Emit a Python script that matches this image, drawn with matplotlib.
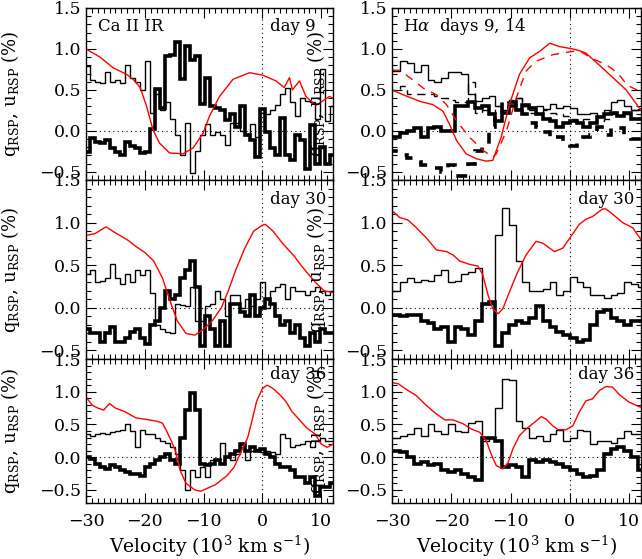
import numpy as np
import matplotlib
matplotlib.use("Agg")
import matplotlib.pyplot as plt
from matplotlib.ticker import MultipleLocator

plt.rcParams['font.family'] = ['DejaVu Serif']
plt.rcParams['mathtext.fontset'] = 'dejavuserif'

# ---------------- data ----------------
# bin grids (10^3 km/s)
ca_start, ca_width, ca_n = -30.15, 0.85, 50
ha_start, ha_width, ha_n = -30.86, 1.143, 38

# Ca II IR day 9
ca9_u = [0.79,0.62,0.60,0.58,0.72,0.60,0.62,0.58,0.80,0.64,0.60,0.50,0.85,0.22,0.45,0.25,0.35,0.15,-0.05,-0.30,
         0.10,-0.52,-0.25,-0.05,0.08,-0.05,-0.02,-0.05,-0.17,0.10,0.10,0.00,-0.05,0.08,-0.08,0.22,0.20,0.25,0.32,0.45,
         0.52,0.35,0.18,0.40,0.36,0.35,0.15,0.75,0.12,0.30]
ca9_q = [-0.26,-0.09,-0.13,-0.15,-0.11,-0.21,-0.26,-0.30,-0.14,-0.19,-0.21,-0.27,-0.26,0.02,0.51,0.28,0.91,0.93,1.08,0.63,
         1.03,0.86,0.91,0.33,0.65,0.30,0.28,0.26,0.13,0.20,0.05,0.30,-0.05,-0.11,-0.32,0.27,-0.01,-0.21,-0.30,0.16,
         -0.30,-0.36,-0.05,-0.11,-0.46,0.07,-0.40,-0.20,-0.40,-0.30]
ca9_fx = [-30,-27.6,-25.4,-23.1,-22,-20.8,-19.7,-18.6,-17.5,-15.8,-13.5,-11.8,-10.1,-9,-7.3,-5,-2.2,0.05,2.3,3.7,4.6,5.1,6.3,7.4,9.1,11.4,12]
ca9_fy = [1.0,0.9,0.77,0.69,0.63,0.53,0.3,0.01,-0.15,-0.27,-0.28,-0.21,-0.03,0.18,0.42,0.63,0.71,0.68,0.61,0.53,0.65,0.5,0.61,0.42,0.31,0.42,0.40]

# Ca II IR day 30
ca30_u = [0.40,0.45,0.30,0.32,0.35,0.52,0.35,0.28,0.40,0.30,0.45,0.38,0.45,0.17,-0.20,-0.25,-0.28,-0.30,0.05,0.03,
          0.02,0.25,-0.15,-0.15,0.02,0.05,0.20,0.10,-0.10,0.15,0.15,0.00,0.10,0.02,0.10,0.30,0.00,0.20,0.25,0.28,
          0.10,0.25,0.20,0.20,0.15,0.20,0.25,0.20,0.15,0.20]
ca30_q = [-0.25,-0.30,-0.30,-0.40,-0.30,-0.22,-0.40,-0.40,-0.35,-0.28,-0.25,-0.35,-0.42,-0.20,-0.15,0.00,0.20,0.10,0.15,0.35,
          0.45,0.55,0.25,-0.45,-0.10,-0.25,-0.45,-0.15,-0.45,0.05,0.05,-0.05,-0.10,0.15,-0.10,0.00,0.10,0.05,-0.10,-0.20,
          -0.15,-0.30,-0.20,-0.35,-0.45,-0.30,-0.40,-0.25,-0.30,-0.30]
ca30_fx = [-30,-28.5,-26.6,-25,-23,-21.5,-20,-18.5,-17,-15.8,-14.5,-13,-11.5,-10,-8.5,-7,-5.8,-4.5,-3,-1.5,0,0.5,1.8,3.5,5.5,6,7.5,9,10.5,12]
ca30_fy = [0.85,0.87,0.95,0.88,0.8,0.72,0.65,0.55,0.35,0.1,-0.15,-0.3,-0.32,-0.25,-0.15,0.0,0.2,0.45,0.7,0.9,0.97,0.98,0.9,0.75,0.6,0.55,0.42,0.3,0.2,0.18]

# Ca II IR day 36
ca36_u = [0.35,0.33,0.35,0.37,0.35,0.38,0.40,0.42,0.50,0.40,0.15,0.42,0.35,0.35,0.30,0.25,0.22,0.15,0.05,-0.20,
          -0.50,-0.20,-0.30,-0.15,-0.30,-0.05,-0.05,0.22,0.00,-0.05,0.05,0.15,-0.05,0.10,0.12,0.08,0.10,0.08,0.05,0.35,
          0.30,0.15,0.18,0.20,0.25,0.15,0.25,0.30,0.25,0.25]
ca36_q = [0.00,-0.03,-0.10,-0.15,-0.18,-0.12,-0.15,-0.20,-0.22,-0.25,-0.25,-0.28,-0.15,-0.10,-0.05,0.00,0.05,-0.05,-0.10,0.30,
          0.72,0.98,0.72,-0.10,-0.12,-0.10,-0.05,-0.10,0.00,0.05,0.10,0.20,0.10,0.15,0.10,0.12,0.05,0.00,-0.10,-0.15,
          -0.15,-0.20,-0.30,-0.30,-0.40,-0.30,-0.60,-0.45,-0.45,-0.40]
ca36_fx = [-30,-29,-28,-27,-26,-25,-23.5,-21.5,-20,-18,-17,-16.3,-15.5,-14.8,-14,-13,-11.5,-10.5,-9.5,-8,-7,-6,-4.8,-3.8,-2.5,-1.8,-1,0,0.8,1.8,3,4,5,6.5,7.5,9,10,11,12]
ca36_fy = [0.92,0.8,0.75,0.72,0.82,0.75,0.7,0.6,0.58,0.55,0.52,0.4,0.25,0.1,-0.2,-0.4,-0.5,-0.52,-0.48,-0.42,-0.35,-0.28,-0.15,0.05,0.3,0.55,0.85,1.05,1.1,1.05,0.95,0.85,0.7,0.55,0.45,0.35,0.2,0.15,0.2]

# H-alpha day 9 (solid) and day 14 (dashed)
ha9_u = [0.73,0.73,0.85,0.83,0.72,0.80,0.62,0.60,0.65,0.72,0.72,0.70,0.45,0.37,0.40,0.43,0.30,0.25,0.35,0.40,
         0.30,0.25,0.30,0.27,0.33,0.28,0.30,0.28,0.20,0.20,0.22,0.18,0.25,0.35,0.38,0.30,0.25,0.27]
ha9_q = [-0.07,-0.07,-0.03,0.00,0.03,-0.07,0.03,0.05,0.00,0.00,0.30,0.30,0.35,0.28,0.30,0.20,0.12,0.22,0.30,0.25,
         0.32,0.28,0.20,0.15,0.12,0.05,0.10,0.12,0.10,0.05,0.10,0.17,0.20,0.22,0.18,0.22,0.15,0.15]
ha14_u = [0.50,0.50,0.55,0.45,0.45,0.45,0.45,0.42,0.40,0.38,0.35,0.35,0.60,0.22,0.25,0.22,0.30,0.35,0.38,0.40,
          0.30,0.22,0.20,0.25,0.22,0.20,0.18,0.15,0.12,0.15,0.10,0.12,0.15,0.20,0.22,0.20,0.25,0.25]
ha14_q = [-0.25,-0.25,-0.30,-0.33,-0.38,-0.42,-0.42,-0.45,-0.50,-0.42,-0.55,-0.55,-0.40,-0.25,-0.18,0.05,0.22,0.38,0.35,0.30,
          0.20,0.10,0.05,-0.02,-0.10,-0.08,-0.15,-0.18,-0.12,-0.08,-0.05,0.05,-0.05,0.05,0.03,-0.05,-0.10,-0.10]
ha9_fx = [-30,-28.1,-25.3,-23.1,-21.4,-20.3,-19.1,-17.5,-15.8,-14.1,-13,-11.6,-10.2,-8.5,-6.8,-5.1,-3.4,-1.8,0.5,1.6,2.7,5,7.1,9.5,11.7,12]
ha9_fy = [0.5,0.44,0.36,0.32,0.24,0.08,-0.12,-0.28,-0.34,-0.37,-0.36,-0.08,0.32,0.69,0.89,0.97,1.07,1.03,1.0,0.98,0.95,0.8,0.66,0.5,0.28,0.26]
ha14_fx = [-30,-28.7,-27,-24.7,-22.5,-20.8,-19.1,-16.9,-14.6,-13,-12.4,-10.7,-9.05,-7.4,-5.7,-2.9,0.5,1.6,3.8,5.8,7.1,8.6,9.6,11.3,12]
ha14_fy = [0.74,0.74,0.65,0.52,0.44,0.32,0.12,-0.08,-0.24,-0.32,-0.28,0.0,0.4,0.73,0.85,0.93,0.97,0.98,0.88,0.82,0.76,0.66,0.56,0.5,0.48]

# H-alpha day 30
ha30_u = [0.20,0.20,0.30,0.35,0.30,0.33,0.32,0.38,0.45,0.30,0.32,0.40,0.42,0.47,0.05,0.05,0.85,1.17,0.97,0.55,
          0.30,0.20,0.20,0.22,0.30,0.15,0.20,0.36,0.30,0.25,0.15,0.15,0.12,0.15,0.18,0.30,0.28,0.25]
ha30_q = [-0.08,-0.08,-0.10,-0.08,-0.08,-0.15,-0.18,-0.25,-0.22,-0.40,-0.22,-0.25,-0.32,-0.15,0.05,0.07,-0.45,-0.30,-0.20,-0.15,
          -0.18,-0.12,0.02,-0.15,-0.22,-0.28,-0.32,-0.35,-0.40,-0.38,-0.20,-0.05,-0.02,-0.12,-0.15,-0.20,-0.15,-0.15]
ha30_fx = [-30,-28.7,-27.3,-25.9,-24.2,-22.5,-20.8,-19.7,-18.6,-16.9,-15.5,-14.7,-13.8,-13,-12.1,-11.3,-10.4,-9,-7.4,-5.7,-4.6,-3.4,-2.6,-1.2,0,1.6,2.7,3.8,5.5,6.1,7.2,8.9,10.6,12]
ha30_fy = [1.14,1.06,1.03,0.94,0.82,0.68,0.66,0.62,0.55,0.51,0.49,0.39,0.15,-0.01,-0.07,-0.01,0.15,0.39,0.62,0.78,0.76,0.7,0.66,0.7,0.82,0.98,1.04,1.07,1.16,1.16,1.1,1.0,0.94,0.8]

# H-alpha day 36
ha36_u = [0.30,0.30,0.32,0.35,0.45,0.33,0.50,0.40,0.35,0.50,0.40,0.38,0.52,0.55,0.25,0.30,0.75,1.20,1.18,0.55,
          0.45,0.30,0.33,0.25,0.35,0.42,0.25,0.30,0.42,0.40,0.20,0.25,0.25,0.22,0.30,0.40,0.35,0.35]
ha36_q = [0.10,0.10,0.08,0.00,-0.10,-0.07,-0.12,-0.10,-0.20,-0.22,-0.20,-0.25,-0.30,-0.35,0.30,0.30,0.25,-0.15,-0.12,-0.15,
          -0.30,-0.05,-0.08,-0.05,-0.08,-0.10,-0.15,-0.20,-0.25,-0.30,-0.28,-0.20,0.05,0.12,0.15,0.10,0.00,-0.20]
ha36_fx = [-30,-28.9,-27.5,-25.9,-24.2,-22.5,-21.1,-19.7,-18,-16.6,-15.2,-14.1,-13.2,-12.4,-11.3,-10.4,-9.6,-8.5,-7.4,-6,-4.8,-4,-2.9,-2,-0.6,0.5,1.6,2.7,3.8,5,6.1,7.2,8.3,10,12]
ha36_fy = [1.14,1.12,1.03,0.94,0.79,0.66,0.57,0.57,0.51,0.43,0.38,0.25,0.03,-0.13,-0.18,-0.08,0.13,0.33,0.43,0.53,0.62,0.58,0.48,0.42,0.42,0.48,0.69,0.86,0.89,1.02,1.08,1.07,0.96,0.84,0.76]

xtick_vals = [-30, -20, -10, 0, 10]
xtick_labels = ["\u221230", "\u221220", "\u221210", "0", "10"]
ytick_vals = [-0.5, 0.0, 0.5, 1.0, 1.5]
ytick_labels = ["\u22120.5", "0.0", "0.5", "1.0", "1.5"]

# ---------------- figure ----------------
W, H = 642, 559
fig = plt.figure(figsize=(W/100, H/100), dpi=100)

colx = [(86, 333), (392, 641)]
rows = [(8, 180, (-0.6, 1.5)), (180, 359, (-0.6, 1.5)), (359, 503, (-0.7, 1.5))]

def make_ax(c, r):
    x0, x1 = colx[c]
    t, b, yl = rows[r]
    ax = fig.add_axes([x0/W, 1-b/H, (x1-x0)/W, (b-t)/H])
    ax.set_xlim(-30, 12)
    ax.set_ylim(*yl)
    ax.set_xticks(xtick_vals)
    ax.set_xticklabels(xtick_labels)
    ax.set_yticks(ytick_vals)
    ax.set_yticklabels(ytick_labels)
    ax.xaxis.set_minor_locator(MultipleLocator(1))
    ax.yaxis.set_minor_locator(MultipleLocator(0.1))
    ax.tick_params(which='both', direction='in', top=True, right=True, width=0.8, labelsize=12.5)
    ax.tick_params(which='major', length=7)
    ax.tick_params(which='minor', length=3.5)
    ax.tick_params(axis='x', pad=7)
    for s in ax.spines.values():
        s.set_linewidth(1.0)
    ax.axhline(0, color='k', lw=0.8, ls=(0, (1, 3)))
    ax.axvline(0, color='k', lw=0.8, ls=(0, (1, 3)))
    if r < 2:
        ax.tick_params(labelbottom=False)
    else:
        ax.set_xlabel("Velocity (10$^3$ km s$^{-1}$)", fontsize=13.5, labelpad=3)
    ax.set_ylabel("q$_{\\rm RSP}$, u$_{\\rm RSP}$ (%)", fontsize=13)
    ax.yaxis.set_label_coords(-64/(x1-x0), 0.5)
    return ax

ca_edges = ca_start + ca_width*np.arange(ca_n+1)
ha_edges = ha_start + ha_width*np.arange(ha_n+1)

panels = [
    (0, 0, ca_edges, [(ca9_u, 1.0, '-'), (ca9_q, 2.6, '-')], [(ca9_fx, ca9_fy, '-')]),
    (0, 1, ca_edges, [(ca30_u, 1.0, '-'), (ca30_q, 2.6, '-')], [(ca30_fx, ca30_fy, '-')]),
    (0, 2, ca_edges, [(ca36_u, 1.0, '-'), (ca36_q, 2.6, '-')], [(ca36_fx, ca36_fy, '-')]),
    (1, 0, ha_edges, [(ha9_u, 1.0, '-'), (ha9_q, 2.6, '-'), (ha14_u, 1.0, (0, (6, 4))), (ha14_q, 2.6, (0, (3, 3)))],
        [(ha9_fx, ha9_fy, '-'), (ha14_fx, ha14_fy, (0, (6, 5)))]),
    (1, 1, ha_edges, [(ha30_u, 1.0, '-'), (ha30_q, 2.6, '-')], [(ha30_fx, ha30_fy, '-')]),
    (1, 2, ha_edges, [(ha36_u, 1.0, '-'), (ha36_q, 2.6, '-')], [(ha36_fx, ha36_fy, '-')]),
]

axes = {}
for c, r, edges, hists, reds in panels:
    ax = make_ax(c, r)
    axes[(c, r)] = ax
    for vals, lw, ls in hists:
        ax.stairs(vals, edges, baseline=None, color='k', lw=lw, ls=ls)
    for fx, fy, ls in reds:
        ax.plot(fx, fy, color='red', lw=1.0, ls=ls)

# texts
axes[(0, 0)].text(0.049, 0.89, "Ca II IR", transform=axes[(0, 0)].transAxes, fontsize=12, va='center')
axes[(1, 0)].text(0.044, 0.89, "H$\\alpha$  days 9, 14", transform=axes[(1, 0)].transAxes, fontsize=12, va='center')
for (c, r), txt in [((0, 0), "day 9"), ((0, 1), "day 30"), ((1, 1), "day 30"), ((0, 2), "day 36"), ((1, 2), "day 36")]:
    axes[(c, r)].text(0.745, 0.89, txt, transform=axes[(c, r)].transAxes, fontsize=12, va='center')

fig.savefig("out.png", dpi=100)
